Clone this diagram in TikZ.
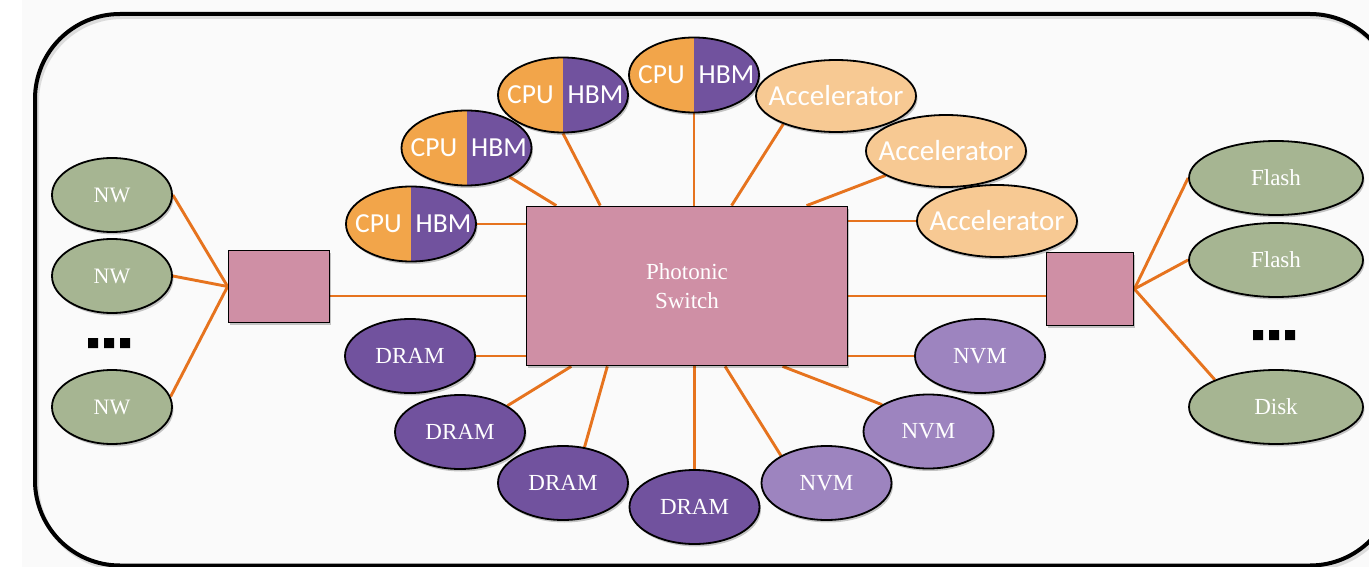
\documentclass[tikz,border=0pt]{standalone}
\usepackage{fontspec}
\setmainfont{Liberation Serif}
\newfontfamily\gillf{Carlito}
\usetikzlibrary{shapes.geometric,shadows,calc}
\pgfdeclarelayer{back}
\pgfdeclarelayer{bg}
\pgfsetlayers{back,bg,main}
\definecolor{nwgreen}{HTML}{A6B592}
\definecolor{swpink}{HTML}{CF8FA5}
\definecolor{cpuorange}{HTML}{F2A54A}
\definecolor{hbmpurple}{HTML}{71529E}
\definecolor{acclight}{HTML}{F7C993}
\definecolor{nvmpurple}{HTML}{9D84BF}
\definecolor{connor}{HTML}{E6731E}
\definecolor{paper}{HTML}{FAFAFA}
\newcommand{\zw}[1]{\makebox[0pt]{#1}}
\tikzset{
  conn/.style={draw=connor, line width=2.9pt},
  shad/.style={drop shadow={shadow xshift=1.5pt, shadow yshift=-2.5pt, fill=black, opacity=0.22}},
  ell/.style={ellipse, draw=black, line width=1.8pt, inner sep=0pt, text=white, shad,
              font=\fontsize{23}{27}\selectfont},
  nwell/.style={ell, fill=nwgreen, minimum width=120pt, minimum height=74pt, font=\fontsize{22}{26}\selectfont},
  stell/.style={ell, fill=nwgreen, minimum width=174pt, minimum height=74pt},
  dramell/.style={ell, fill=hbmpurple, minimum width=130pt, minimum height=74pt},
  nvmell/.style={ell, fill=nvmpurple, minimum width=130pt, minimum height=74pt},
  accell/.style={ell, fill=acclight, minimum width=160pt, minimum height=72pt,
                 font=\gillf\fontsize{29}{32}\selectfont},
  sanslbl/.style={text=white, inner sep=0pt, font=\gillf\fontsize{27.5}{30}\selectfont},
  cpuell/.style={ell, fill=cpuorange, minimum width=130pt, minimum height=75pt,
    path picture={
      \fill[hbmpurple] (path picture bounding box.north) rectangle (path picture bounding box.south east);
      \node[sanslbl] at ($(path picture bounding box.west)!0.5!(path picture bounding box.center)$) {CPU};
      \node[sanslbl] at ($(path picture bounding box.east)!0.5!(path picture bounding box.center)$) {HBM};
    }},
  boxnode/.style={rectangle, draw=black, line width=1.8pt, fill=swpink, inner sep=0pt, shad},
}
\begin{document}
\begin{tikzpicture}[x=1pt, y=-1pt]
\useasboundingbox (0,0) rectangle (1369,567);
\clip (0,0) rectangle (1369,567);

% ---- nodes ----
\node[nwell] (nw1) at (112,195) {\zw{NW}};
\node[nwell] (nw2) at (112,276) {\zw{NW}};
\node[nwell] (nw3) at (112,407) {\zw{NW}};

\node[boxnode, minimum width=101pt, minimum height=72pt] (lbox) at (279,286.5) {};
\node[boxnode, minimum width=87pt, minimum height=73pt] (rbox) at (1090,289) {};

\node[boxnode, minimum width=321pt, minimum height=159pt, text=white, align=center,
      font=\fontsize{23}{29}\selectfont] (switch) at (687,286) {Photonic\\Switch};

\node[cpuell] (ch1) at (411,224) {};
\node[cpuell] (ch2) at (466.5,148) {};
\node[cpuell] (ch3) at (563,95) {};
\node[cpuell] (ch4) at (694,75) {};

\node[accell] (acc1) at (836,96) {\zw{Accelerator}};
\node[accell] (acc2) at (946,151) {\zw{Accelerator}};
\node[accell] (acc3) at (997,221) {\zw{Accelerator}};

\node[stell] (fl1) at (1276,178) {\zw{Flash}};
\node[stell] (fl2) at (1276,260) {\zw{Flash}};
\node[stell] (disk) at (1276,407) {\zw{Disk}};

\node[dramell] (d1) at (410,356) {\zw{DRAM}};
\node[dramell] (d2) at (460,432) {\zw{DRAM}};
\node[dramell] (d3) at (563,483) {\zw{DRAM}};
\node[dramell] (d4) at (694.5,507) {\zw{DRAM}};

\node[nvmell] (n1) at (826.5,483) {\zw{NVM}};
\node[nvmell] (n2) at (928.5,431.5) {\zw{NVM}};
\node[nvmell] (n3) at (980,356) {\zw{NVM}};

% ellipsis marks
\fill[black] (88,338) rectangle (98,348) (104,338) rectangle (114,348) (120,338) rectangle (130,348);
\fill[black] (1253,330) rectangle (1263,340) (1269,330) rectangle (1279,340) (1285,330) rectangle (1295,340);

% ---- background and frame ----
\begin{pgfonlayer}{back}
  \fill[white] (0,0) rectangle (1369,567);
  \fill[paper] (22,0) rectangle (1369,567);
  \draw[black!25, line width=4pt, rounded corners=85pt, opacity=0.5] (37,17) rectangle (1397,568.5);
  \draw[black, line width=4pt, rounded corners=85pt] (35,14) rectangle (1395,565.5);
\end{pgfonlayer}

% ---- connectors ----
\begin{pgfonlayer}{bg}
  \draw[conn] (nw1.east) -- (lbox.west);
  \draw[conn] (nw2.east) -- (lbox.west);
  \draw[conn] (nw3.10) -- (lbox.west);
  \draw[conn] ([yshift=-9.5pt]lbox.east) -- ([yshift=-9.5pt]lbox.east -| switch.west);
  \draw[conn] ([yshift=-7pt]rbox.west) -- ([yshift=-7pt]rbox.west -| switch.east);
  \draw[conn] (rbox.east) -- (fl1.west);
  \draw[conn] (rbox.east) -- (fl2.west);
  \draw[conn] (rbox.east) -- (disk.156);

  \draw[conn] (ch1.east) -- (ch1.east -| switch.west);
  \draw[conn] (ch2.-34.6) -- ([xshift=30.7pt]switch.north west);
  \draw[conn] (ch3.south) -- ([xshift=74.7pt]switch.north west);
  \draw[conn] (ch4.south) -- (ch4.south |- switch.north);
  \draw[conn] (acc1.208) -- ([xshift=206pt]switch.north west);
  \draw[conn] (acc2.202) -- ([xshift=281pt]switch.north west);
  \draw[conn] (acc3.west) -- (acc3.west -| switch.east);

  \draw[conn] (d1.east) -- (d1.east -| switch.west);
  \draw[conn] (d2.29.7) -- ([xshift=45.7pt]switch.south west);
  \draw[conn] (d3.59) -- ([xshift=81.7pt]switch.south west);
  \draw[conn] (d4.north) -- (d4.north |- switch.south);
  \draw[conn] (n1.149.5) -- ([xshift=199.5pt]switch.south west);
  \draw[conn] (n2.150) -- ([xshift=257pt]switch.south west);
  \draw[conn] (n3.west) -- (n3.west -| switch.east);
\end{pgfonlayer}
\end{tikzpicture}
\end{document}
